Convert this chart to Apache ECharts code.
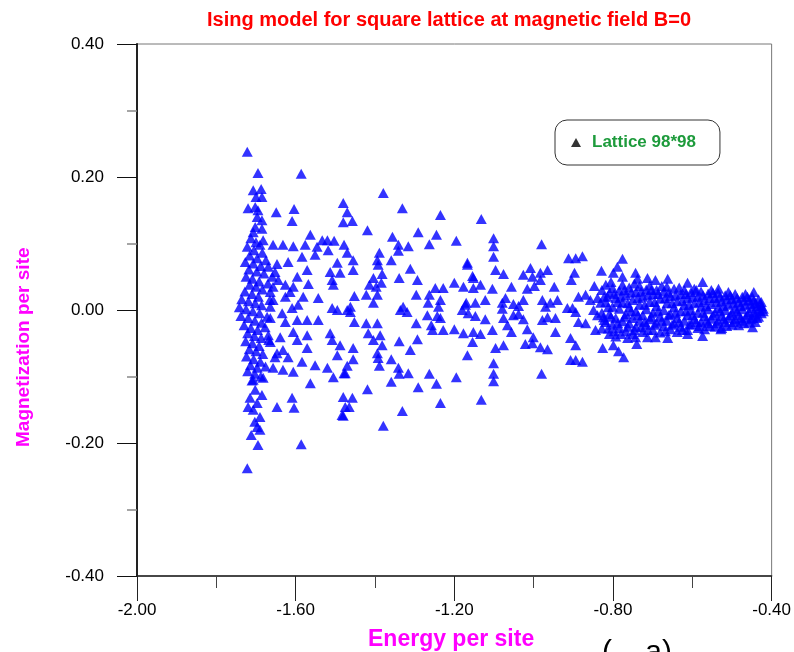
<!DOCTYPE html>
<html>
<head>
<meta charset="utf-8">
<script src="https://cdn.jsdelivr.net/npm/echarts@6/dist/echarts.min.js"></script>
<style>
  html, body { margin: 0; padding: 0; background: #fff; }
  #isingChart { width: 794px; height: 652px; }
</style>
</head>
<body>
<div id="isingChart"></div>
<script>
// energy per site / magnetization per site
const outerSamples = [
  [-1.722, 0.238], [-1.695, 0.206], [-1.707, 0.180], [-1.687, 0.182], [-1.700, 0.170],
  [-1.685, 0.170], [-1.720, 0.153], [-1.702, 0.155], [-1.695, 0.150], [-1.697, 0.140],
  [-1.685, 0.135], [-1.702, 0.125], [-1.707, 0.117], [-1.685, 0.122], [-1.649, 0.147],
  [-1.604, 0.152], [-1.609, 0.134], [-1.586, 0.205],
  [-1.697, -0.140], [-1.707, -0.150], [-1.690, -0.161], [-1.720, -0.146], [-1.697, -0.176],
  [-1.690, -0.180], [-1.695, -0.203], [-1.722, -0.238], [-1.586, -0.202], [-1.609, -0.132],
  [-1.604, -0.147], [-1.647, -0.146], [-1.682, -0.102], [-1.707, -0.105], [-1.702, -0.120],
  [-1.685, -0.128], [-1.715, -0.132], [-1.703, -0.168], [-1.712, -0.188]
]

const columnSamples = [
  [-1.713, 0.108], [-1.700, 0.102], [-1.690, 0.098], [-1.722, 0.095], [-1.705, 0.090],
  [-1.684, 0.086], [-1.716, 0.082], [-1.697, 0.078], [-1.727, 0.072], [-1.707, 0.070],
  [-1.688, 0.066], [-1.718, 0.061], [-1.698, 0.058], [-1.680, 0.055], [-1.725, 0.050],
  [-1.709, 0.047], [-1.692, 0.043], [-1.716, 0.038], [-1.700, 0.035], [-1.684, 0.031],
  [-1.728, 0.028], [-1.710, 0.024], [-1.694, 0.020], [-1.736, 0.016], [-1.719, 0.013],
  [-1.702, 0.010], [-1.686, 0.007], [-1.742, 0.004], [-1.725, 0.001], [-1.708, -0.002],
  [-1.691, -0.005], [-1.738, -0.009], [-1.720, -0.012], [-1.703, -0.016], [-1.686, -0.019],
  [-1.730, -0.023], [-1.713, -0.027], [-1.696, -0.030], [-1.721, -0.035], [-1.704, -0.039],
  [-1.687, -0.042], [-1.726, -0.047], [-1.709, -0.050], [-1.692, -0.054], [-1.717, -0.059],
  [-1.700, -0.062], [-1.683, -0.066], [-1.724, -0.070], [-1.706, -0.074], [-1.689, -0.078],
  [-1.714, -0.083], [-1.697, -0.087], [-1.721, -0.092], [-1.703, -0.096], [-1.688, -0.100],
  [-1.710, -0.106], [-1.675, 0.075], [-1.670, 0.040], [-1.672, -0.010], [-1.668, -0.045],
  [-1.676, -0.085], [-1.665, 0.015]
]

const leftSamples = [
  [-1.682, 0.105], [-1.657, 0.098], [-1.632, 0.098], [-1.606, 0.096], [-1.576, 0.098],
  [-1.546, 0.095], [-1.518, 0.090], [-1.563, 0.113], [-1.533, 0.105], [-1.520, 0.105],
  [-1.503, 0.104], [-1.669, 0.065], [-1.647, 0.069], [-1.619, 0.072], [-1.584, 0.080],
  [-1.551, 0.083], [-1.495, 0.071], [-1.571, 0.060], [-1.596, 0.050], [-1.568, 0.039],
  [-1.659, 0.050], [-1.626, 0.038], [-1.606, 0.035], [-1.513, 0.057], [-1.488, 0.056],
  [-1.508, 0.045], [-1.505, 0.038], [-1.581, 0.020], [-1.543, 0.018], [-1.508, 0.003],
  [-1.495, 0.000], [-1.470, 0.000], [-1.543, -0.015], [-1.571, -0.015], [-1.596, -0.015],
  [-1.513, -0.035], [-1.508, -0.045], [-1.488, -0.053], [-1.571, -0.038], [-1.596, -0.045],
  [-1.571, -0.057], [-1.495, -0.068], [-1.632, -0.060], [-1.619, -0.071], [-1.647, -0.065],
  [-1.584, -0.078], [-1.551, -0.083], [-1.520, -0.087], [-1.505, -0.101], [-1.475, -0.095],
  [-1.563, -0.110], [-1.657, -0.087], [-1.632, -0.090], [-1.606, -0.093],
  [-1.657, 0.015], [-1.626, 0.020], [-1.609, 0.003], [-1.634, -0.005], [-1.664, -0.012],
  [-1.626, -0.018], [-1.606, -0.033], [-1.664, -0.048], [-1.657, 0.035], [-1.644, 0.045],
  [-1.594, 0.008], [-1.614, 0.027], [-1.652, 0.057], [-1.664, 0.027], [-1.664, 0.005],
  [-1.677, -0.026], [-1.669, -0.038], [-1.639, -0.041], [-1.652, -0.071],
  [-1.480, 0.161], [-1.470, 0.147], [-1.480, 0.132], [-1.457, 0.134],
  [-1.480, -0.131], [-1.483, -0.158], [-1.475, -0.146], [-1.457, -0.132], [-1.465, -0.146],
  [-1.480, -0.159]
]

const middleSamples = [
  [-1.379, 0.176], [-1.331, 0.153], [-1.235, 0.143], [-1.419, 0.120], [-1.356, 0.110],
  [-1.291, 0.117], [-1.245, 0.113], [-1.195, 0.104], [-1.341, 0.098], [-1.316, 0.096],
  [-1.341, 0.089], [-1.263, 0.099], [-1.478, 0.098], [-1.470, 0.086], [-1.455, 0.075],
  [-1.455, 0.060], [-1.389, 0.086], [-1.394, 0.075], [-1.392, 0.068], [-1.359, 0.075],
  [-1.382, 0.054], [-1.311, 0.062], [-1.339, 0.048], [-1.293, 0.045], [-1.404, 0.048],
  [-1.414, 0.038], [-1.397, 0.035], [-1.384, 0.041], [-1.422, 0.023], [-1.394, 0.023],
  [-1.404, 0.011], [-1.452, 0.021], [-1.296, 0.023], [-1.248, 0.033], [-1.228, 0.033],
  [-1.200, 0.041], [-1.177, 0.035], [-1.167, 0.068], [-1.263, 0.023], [-1.235, 0.015],
  [-1.266, 0.011], [-1.240, 0.005], [-1.329, 0.005], [-1.319, -0.003], [-1.336, 0.000],
  [-1.172, 0.008], [-1.180, 0.000], [-1.165, -0.005], [-1.462, 0.005], [-1.462, -0.003],
  [-1.452, -0.018], [-1.422, -0.020], [-1.394, -0.020], [-1.268, -0.008], [-1.243, -0.009],
  [-1.235, -0.012], [-1.296, -0.020], [-1.258, -0.023], [-1.255, -0.030], [-1.228, -0.030],
  [-1.200, -0.029], [-1.177, -0.035], [-1.417, -0.035], [-1.387, -0.038], [-1.404, -0.045],
  [-1.382, -0.053], [-1.339, -0.047], [-1.293, -0.044], [-1.311, -0.060], [-1.455, -0.057],
  [-1.455, -0.074], [-1.470, -0.084], [-1.478, -0.095], [-1.394, -0.065], [-1.392, -0.072],
  [-1.389, -0.084], [-1.359, -0.074], [-1.341, -0.087], [-1.339, -0.096], [-1.316, -0.095],
  [-1.359, -0.108], [-1.263, -0.096], [-1.245, -0.111], [-1.291, -0.116], [-1.195, -0.101],
  [-1.167, -0.068], [-1.419, -0.119], [-1.331, -0.152], [-1.235, -0.140], [-1.379, -0.174]
]

const rightSamples = [
  [-1.132, 0.137], [-1.101, 0.108], [-1.101, 0.096], [-1.101, 0.080], [-0.980, 0.099],
  [-1.167, 0.071], [-1.154, 0.051], [-1.152, 0.048], [-1.152, 0.033], [-1.134, 0.038],
  [-1.096, 0.060], [-1.076, 0.054], [-1.104, 0.032], [-1.056, 0.035], [-1.008, 0.063],
  [-1.026, 0.053], [-1.003, 0.050], [-0.983, 0.056], [-0.965, 0.060], [-0.983, 0.045],
  [-1.016, 0.032], [-0.998, 0.036], [-0.948, 0.035], [-0.912, 0.078], [-0.894, 0.078],
  [-0.877, 0.081], [-0.897, 0.056], [-0.905, 0.045], [-0.829, 0.059], [-0.847, 0.036],
  [-1.170, 0.011], [-1.147, 0.011], [-1.122, 0.015], [-1.147, -0.009], [-1.122, -0.014],
  [-1.079, 0.011], [-1.079, 0.002], [-1.071, 0.018], [-1.051, 0.009], [-1.038, 0.006],
  [-1.026, 0.015], [-1.076, -0.012], [-1.066, -0.023], [-1.051, -0.008], [-1.038, -0.006],
  [-1.026, -0.014], [-1.056, -0.033], [-1.016, -0.029], [-0.978, 0.015], [-0.970, 0.005],
  [-0.958, 0.011], [-0.940, 0.015], [-0.978, -0.015], [-0.965, -0.011], [-0.945, -0.012],
  [-0.915, 0.003], [-0.902, 0.003], [-0.894, -0.003], [-0.887, -0.018], [-0.869, -0.020],
  [-0.887, 0.020], [-0.869, 0.023], [-0.857, 0.015], [-0.839, 0.018], [-0.831, 0.011],
  [-0.814, 0.020], [-0.849, 0.000], [-0.839, -0.008], [-0.824, -0.011], [-0.844, -0.030],
  [-1.152, -0.033], [-1.134, -0.036], [-1.104, -0.030], [-1.154, -0.048], [-1.096, -0.057],
  [-1.076, -0.053], [-1.021, -0.051], [-1.003, -0.050], [-0.983, -0.056], [-0.965, -0.059],
  [-1.001, -0.041], [-0.945, -0.033], [-0.907, -0.042], [-0.894, -0.053], [-0.907, -0.075],
  [-0.894, -0.075], [-0.877, -0.078], [-1.101, -0.080], [-1.101, -0.096], [-1.101, -0.107],
  [-0.980, -0.096], [-1.132, -0.135], [-0.826, -0.057]
]

const tailSamples = [
  [-0.776, 0.077], [-0.789, 0.065], [-0.799, 0.056], [-0.776, 0.050], [-0.743, 0.056],
  [-0.738, 0.047], [-0.713, 0.048], [-0.693, 0.045], [-0.662, 0.047], [-0.612, 0.041],
  [-0.574, 0.042], [-0.534, 0.032], [-0.445, 0.027],
  [-0.799, -0.053], [-0.786, -0.062], [-0.773, -0.071], [-0.763, -0.042], [-0.743, -0.041],
  [-0.740, -0.051], [-0.713, -0.041], [-0.693, -0.041], [-0.662, -0.042], [-0.612, -0.036],
  [-0.574, -0.039], [-0.528, -0.029], [-0.448, -0.026],
  [-0.828, 0.030], [-0.828, -0.004], [-0.828, -0.028], [-0.818, 0.012], [-0.818, -0.018],
  [-0.818, 0.038], [-0.809, 0.026], [-0.809, -0.006], [-0.809, -0.036], [-0.801, 0.005],
  [-0.801, 0.033], [-0.801, -0.022], [-0.793, 0.018], [-0.793, -0.012], [-0.793, -0.040],
  [-0.784, 0.029], [-0.784, 0.002], [-0.784, -0.027], [-0.776, 0.011], [-0.776, -0.017],
  [-0.776, 0.038], [-0.767, 0.022], [-0.767, -0.006], [-0.767, -0.032], [-0.759, 0.034],
  [-0.759, 0.004], [-0.759, -0.020], [-0.750, 0.015], [-0.750, -0.012], [-0.750, -0.036],
  [-0.742, 0.027], [-0.742, -0.002], [-0.742, -0.025], [-0.733, 0.008], [-0.733, 0.036],
  [-0.733, -0.016], [-0.725, 0.020], [-0.725, -0.008], [-0.725, -0.033], [-0.716, 0.031],
  [-0.716, 0.001], [-0.716, -0.022], [-0.707, 0.012], [-0.707, -0.014], [-0.707, 0.037],
  [-0.699, 0.024], [-0.699, -0.004], [-0.699, -0.030], [-0.690, 0.006], [-0.690, 0.030],
  [-0.690, -0.019], [-0.681, 0.017], [-0.681, -0.010], [-0.681, -0.034], [-0.672, 0.028],
  [-0.672, 0.000], [-0.672, -0.024], [-0.664, 0.010], [-0.664, -0.016], [-0.664, 0.035],
  [-0.655, 0.021], [-0.655, -0.006], [-0.655, -0.029], [-0.646, 0.032], [-0.646, 0.004],
  [-0.646, -0.020], [-0.638, 0.013], [-0.638, -0.012], [-0.638, -0.033], [-0.629, 0.024],
  [-0.629, -0.002], [-0.629, -0.025], [-0.620, 0.007], [-0.620, 0.030], [-0.620, -0.016],
  [-0.612, 0.018], [-0.612, -0.008], [-0.612, -0.030], [-0.603, 0.027], [-0.603, 0.000],
  [-0.603, -0.021], [-0.595, 0.010], [-0.595, -0.014], [-0.595, 0.032], [-0.586, 0.020],
  [-0.586, -0.004], [-0.586, -0.027], [-0.578, 0.005], [-0.578, 0.028], [-0.578, -0.018],
  [-0.569, 0.015], [-0.569, -0.009], [-0.569, -0.029], [-0.560, 0.025], [-0.560, 0.001],
  [-0.560, -0.020], [-0.552, 0.009], [-0.552, -0.013], [-0.552, 0.030], [-0.543, 0.018],
  [-0.543, -0.004], [-0.543, -0.025], [-0.535, 0.003], [-0.535, 0.026], [-0.535, -0.016],
  [-0.526, 0.013], [-0.526, -0.009], [-0.526, -0.027], [-0.517, 0.022], [-0.517, 0.000],
  [-0.517, -0.018], [-0.509, 0.008], [-0.509, -0.012], [-0.509, 0.027], [-0.500, 0.016],
  [-0.500, -0.004], [-0.500, -0.022], [-0.492, 0.002], [-0.492, 0.024], [-0.492, -0.014],
  [-0.483, 0.012], [-0.483, -0.008], [-0.483, -0.023], [-0.474, 0.020], [-0.474, 0.001],
  [-0.474, -0.016], [-0.466, 0.007], [-0.466, -0.011], [-0.466, 0.024], [-0.457, 0.015],
  [-0.457, -0.003], [-0.457, -0.019], [-0.449, 0.003], [-0.449, 0.020], [-0.449, -0.012],
  [-0.441, 0.010], [-0.441, -0.007], [-0.441, -0.018], [-0.433, 0.016], [-0.433, 0.001],
  [-0.433, -0.010], [-0.426, 0.006], [-0.426, -0.005], [-0.426, 0.012], [-0.421, 0.002],
  [-0.421, -0.002]
]

// second pass over the crowded tail, filling the gaps between the rows
const tailFillSamples = [
  [-0.822, 0.020], [-0.822, -0.015], [-0.812, -0.028], [-0.812, 0.004], [-0.805, 0.042],
  [-0.805, -0.010], [-0.797, -0.032], [-0.797, 0.024], [-0.788, 0.012], [-0.788, -0.020],
  [-0.780, -0.036], [-0.780, 0.020], [-0.771, 0.030], [-0.771, -0.010], [-0.763, 0.010],
  [-0.763, -0.025], [-0.754, 0.026], [-0.754, -0.002], [-0.746, 0.040], [-0.746, -0.030],
  [-0.737, 0.018], [-0.737, -0.008], [-0.729, -0.026], [-0.729, 0.028], [-0.720, 0.008],
  [-0.720, -0.018], [-0.712, 0.022], [-0.712, -0.030], [-0.703, 0.030], [-0.703, -0.010],
  [-0.695, 0.012], [-0.695, -0.022], [-0.686, 0.024], [-0.686, -0.002], [-0.677, -0.016],
  [-0.677, 0.036], [-0.668, 0.018], [-0.668, -0.032], [-0.660, 0.026], [-0.660, -0.008],
  [-0.651, 0.010], [-0.651, -0.022], [-0.642, 0.022], [-0.642, -0.004], [-0.633, 0.034],
  [-0.633, -0.018], [-0.625, 0.014], [-0.625, -0.030], [-0.616, 0.024], [-0.616, -0.002],
  [-0.608, 0.008], [-0.608, -0.022], [-0.599, 0.020], [-0.599, -0.008], [-0.590, 0.030],
  [-0.590, -0.018], [-0.582, 0.012], [-0.582, -0.024], [-0.573, 0.022], [-0.573, -0.004],
  [-0.565, 0.006], [-0.565, -0.016], [-0.556, 0.018], [-0.556, -0.024], [-0.548, 0.026],
  [-0.548, -0.008], [-0.539, 0.012], [-0.539, -0.020], [-0.530, 0.020], [-0.530, -0.002],
  [-0.521, 0.006], [-0.521, -0.014], [-0.513, 0.016], [-0.513, -0.024], [-0.504, 0.022],
  [-0.504, -0.008], [-0.496, 0.010], [-0.496, -0.018], [-0.487, 0.018], [-0.487, -0.002],
  [-0.478, 0.006], [-0.478, -0.012], [-0.470, 0.014], [-0.470, -0.020], [-0.461, 0.020],
  [-0.461, -0.007], [-0.453, 0.009], [-0.453, -0.014], [-0.445, 0.014], [-0.445, -0.004],
  [-0.437, 0.006], [-0.437, -0.012], [-0.429, 0.010], [-0.429, -0.002]
]

const xTickLabels = ['-2.00', '-1.60', '-1.20', '-0.80', '-0.40']
const yTickLabels = ['-0.40', '-0.20', '0.00', '0.20', '0.40']

const seriesName = 'Lattice 98*98'
const allSamples = [].concat(outerSamples, columnSamples, leftSamples, middleSamples,
  rightSamples, tailSamples, tailFillSamples)

const chart = echarts.init(document.getElementById('isingChart'), null, { renderer: 'canvas' })
const font = '"Liberation Sans", Arial, sans-serif'

chart.setOption({
  backgroundColor: '#fff',
  animation: false,
  title: {
    text: 'Ising model for square lattice at magnetic field B=0',
    left: 444,
    top: 5,
    textAlign: 'center',
    textStyle: { color: '#ff0000', fontFamily: font, fontWeight: 'bold', fontSize: 20 }
  },
  legend: {
    left: 555,
    top: 120,
    orient: 'vertical',
    padding: [14, 24, 14, 16],
    borderColor: '#333',
    borderWidth: 1,
    borderRadius: 12,
    itemWidth: 10,
    itemHeight: 9,
    data: [{ name: seriesName, icon: 'triangle', itemStyle: { color: '#000' } }],
    textStyle: { color: '#1e9b3c', fontFamily: font, fontWeight: 'bold', fontSize: 17, padding: [0, 0, 0, 6] }
  },
  grid: {
    left: 137,
    right: 22,
    top: 44,
    bottom: 76,
    show: true,
    borderColor: '#777',
    borderWidth: 1
  },
  xAxis: {
    type: 'value',
    min: -2.0,
    max: -0.4,
    interval: 0.4,
    axisLine: { onZero: false, lineStyle: { color: '#222', width: 1.5 } },
    axisTick: { length: 25, lineStyle: { color: '#222' } },
    minorTick: { show: true, splitNumber: 2, length: 12, lineStyle: { color: '#444' } },
    splitLine: { show: false },
    axisLabel: {
      margin: 26,
      color: '#000',
      fontFamily: font,
      fontSize: 17,
      formatter: function(v) {
        return xTickLabels.find(function(t) { return Math.abs(parseFloat(t) - v) < 1e-6 }) || ''
      }
    }
  },
  yAxis: {
    type: 'value',
    min: -0.4,
    max: 0.4,
    interval: 0.2,
    axisLine: { onZero: false, lineStyle: { color: '#222', width: 2 } },
    axisTick: { length: 20, lineStyle: { color: '#111' } },
    minorTick: { show: true, splitNumber: 2, length: 10, lineStyle: { color: '#888', width: 1.5 } },
    splitLine: { show: false },
    axisLabel: {
      margin: 33,
      color: '#000',
      fontFamily: font,
      fontSize: 17,
      formatter: function(v) {
        return yTickLabels.find(function(t) { return Math.abs(parseFloat(t) - v) < 1e-6 }) || ''
      }
    }
  },
  graphic: [
    {
      type: 'text',
      left: 368,
      top: 628,
      style: { text: 'Energy per site', fill: '#ff00ff', font: 'bold 23px "Liberation Sans", Arial, sans-serif' }
    },
    {
      type: 'text',
      x: 33,
      y: 447,
      rotation: Math.PI / 2,
      style: { text: 'Magnetization per site', fill: '#ff00ff', font: 'bold 19px "Liberation Sans", Arial, sans-serif', textAlign: 'left', textVerticalAlign: 'bottom' }
    },
    {
      type: 'text',
      left: 602,
      top: 638,
      style: { text: '(    a)', fill: '#000', font: '30px "Liberation Sans", Arial, sans-serif' }
    }
  ],
  series: [{
    name: seriesName,
    type: 'scatter',
    symbol: 'triangle',
    symbolSize: [11, 10],
    itemStyle: { color: '#0000ff' },
    data: allSamples
  }]
})
</script>
</body>
</html>
